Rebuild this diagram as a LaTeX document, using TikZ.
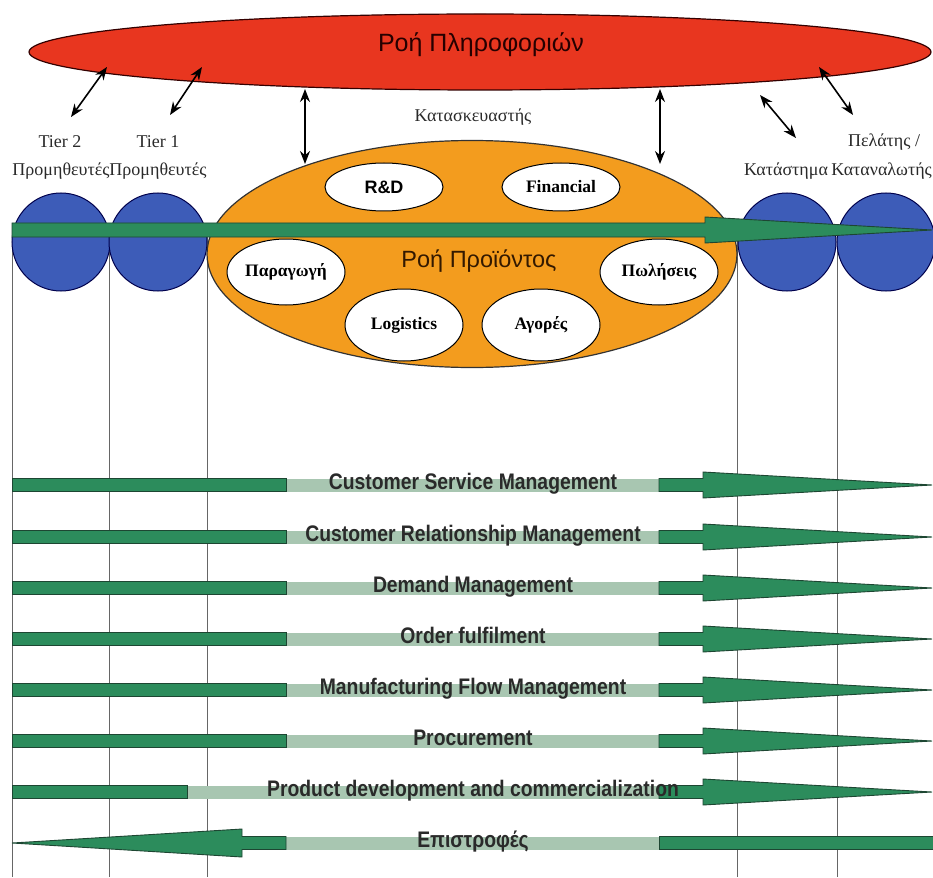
\documentclass[tikz,border=0pt]{standalone}
\usepackage{fontspec}
\setmainfont{Liberation Serif}
\newfontfamily\sansf{Liberation Sans}
\newfontfamily\narrowf[FakeStretch=0.86]{Liberation Sans}
\usetikzlibrary{shapes.geometric,arrows.meta}
\definecolor{infored}{HTML}{E8361F}
\definecolor{prodorange}{HTML}{F39C1E}
\definecolor{tierblue}{HTML}{3D5CB8}
\definecolor{bargreen}{HTML}{2C8C5C}
\definecolor{barlight}{HTML}{A8C6B1}
\definecolor{baredge}{HTML}{1D4632}
\definecolor{txtdark}{HTML}{2A2A2A}
\tikzset{
  bigell/.style={ellipse, draw=black!80!red, line width=1.2pt, inner sep=0pt},
  smallell/.style={ellipse, draw=black, fill=white, line width=1pt, inner sep=0pt,
     minimum width=118pt, font=\fontsize{17.5}{19}\selectfont\bfseries},
  tiercirc/.style={circle, draw=black!70!blue, fill=tierblue, line width=1pt,
     minimum size=98pt, inner sep=0pt},
  toplabel/.style={font=\fontsize{18}{20}\selectfont, text=txtdark, inner sep=0pt},
  rowlabel/.style={font=\narrowf\bfseries\fontsize{22.5}{25}\selectfont, text=txtdark,
     inner sep=0pt, anchor=base},
  dblarrow/.style={{Stealth[length=13pt,width=10pt]}-{Stealth[length=13pt,width=10pt]},
     line width=1.6pt, black},
  barpart/.style={fill=bargreen, draw=baredge, line width=0.9pt},
  vline/.style={draw=black!60, line width=1pt}
}
\begin{document}
\begin{tikzpicture}[x=1pt,y=-1pt]
\useasboundingbox (0,0) rectangle (933,877);
\clip (0,0) rectangle (933,877);
\fill[white] (0,0) rectangle (933,877);

% vertical separators
\foreach \vx/\vn in {12/v1,109/v2,207/v3,737/v4,837/v5}{
  \coordinate (\vn a) at (\vx,230);
  \coordinate (\vn b) at (\vx,877);
  \draw[vline] (\vn a) -- (\vn b);
}

% information flow
\node[bigell, fill=infored, minimum width=902pt, minimum height=76pt] (info) at (480,52) {};
\node[font=\sansf\fontsize{25}{28}\selectfont, text=black!85!red, inner sep=0pt] (infotxt) at (481,45) {Ροή Πληροφοριών};

% tier circles
\node[tiercirc] (c1) at (61,242) {};
\node[tiercirc] (c2) at (158,242) {};
\node[tiercirc] (c3) at (787,242) {};
\node[tiercirc] (c4) at (886,242) {};

% product ellipse
\node[bigell, fill=prodorange, draw=black!80, minimum width=530pt, minimum height=227pt] (prod) at (472,254) {};
\node[font=\sansf\fontsize{23.5}{26}\selectfont, text=black!80!orange, inner sep=0pt] (prodtxt) at (479,261) {Ροή Προϊόντος};

% inner ellipses
\node[smallell, minimum height=48pt, font=\sansf\fontsize{18}{20}\selectfont\bfseries] (rd) at (384,187) {R\&D};
\node[smallell, minimum height=48pt] (fin) at (561,187) {Financial};
\node[smallell, minimum height=66pt] (par) at (286,272) {Παραγωγή};
\node[smallell, minimum height=66pt] (pol) at (659,272) {Πωλήσεις};
\node[smallell, minimum height=72pt] (log) at (404,325) {Logistics};
\node[smallell, minimum height=72pt] (ago) at (541,325) {Αγορές};

% labels
\node[toplabel] (man) at (473,117) {Κατασκευαστής};
\node[toplabel] (t2a) at (60,142) {Tier 2};
\node[toplabel] (t2b) at (61,171) {Προμηθευτές};
\node[toplabel] (t1a) at (158,142) {Tier 1};
\node[toplabel] (t1b) at (158,171) {Προμηθευτές};
\node[toplabel] (sta) at (786,171) {Κατάστημα};
\node[toplabel] (cua) at (884,142) {Πελάτης /};
\node[toplabel, anchor=east] (cub) at (932,171) {Καταναλωτής};

% double arrows
\coordinate (a1s) at (107,67); \coordinate (a1e) at (71,117);
\coordinate (a2s) at (202,67); \coordinate (a2e) at (170,115);
\coordinate (a3s) at (305,89); \coordinate (a3e) at (305,164);
\coordinate (a4s) at (660,89); \coordinate (a4e) at (660,164);
\coordinate (a5s) at (760,95); \coordinate (a5e) at (796,138);
\coordinate (a6s) at (819,67); \coordinate (a6e) at (853,115);
\foreach \a in {1,...,6}{ \draw[dblarrow] (a\a s) -- (a\a e); }

% product flow bar
\filldraw[barpart] (12,223) -- (705,223) -- (705,217) -- (932,230) -- (705,243) -- (705,237) -- (12,237) -- cycle;

% process rows
\foreach \y/\lx/\lab/\nm in {
  485/286/Customer Service Management/r1,
  537/286/Customer Relationship Management/r2,
  588/286/Demand Management/r3,
  639/286/Order fulfilment/r4,
  690/286/Manufacturing Flow Management/r5,
  741/286/Procurement/r6,
  792/187/Product development and commercialization/r7}{
  \fill[barlight] (\lx,\y-6.5) rectangle (659,\y+6.5);
  \filldraw[barpart] (12,\y-6.5) rectangle (\lx,\y+6.5);
  \filldraw[barpart] (659,\y-6.5) -- (703,\y-6.5) -- (703,\y-13) -- (932,\y)
     -- (703,\y+13) -- (703,\y+6.5) -- (659,\y+6.5) -- cycle;
  \node[rowlabel] (\nm) at (473,\y+4.5) {\lab};
}
% returns (reverse)
\fill[barlight] (286,836.5) rectangle (659,849.5);
\filldraw[barpart] (12,843) -- (242,829) -- (242,836.5) -- (286,836.5) -- (286,849.5)
   -- (242,849.5) -- (242,857) -- cycle;
\filldraw[barpart] (659,836.5) rectangle (940,849.5);
\node[rowlabel] (r8) at (473,847.5) {Επιστροφές};
\end{tikzpicture}
\end{document}
